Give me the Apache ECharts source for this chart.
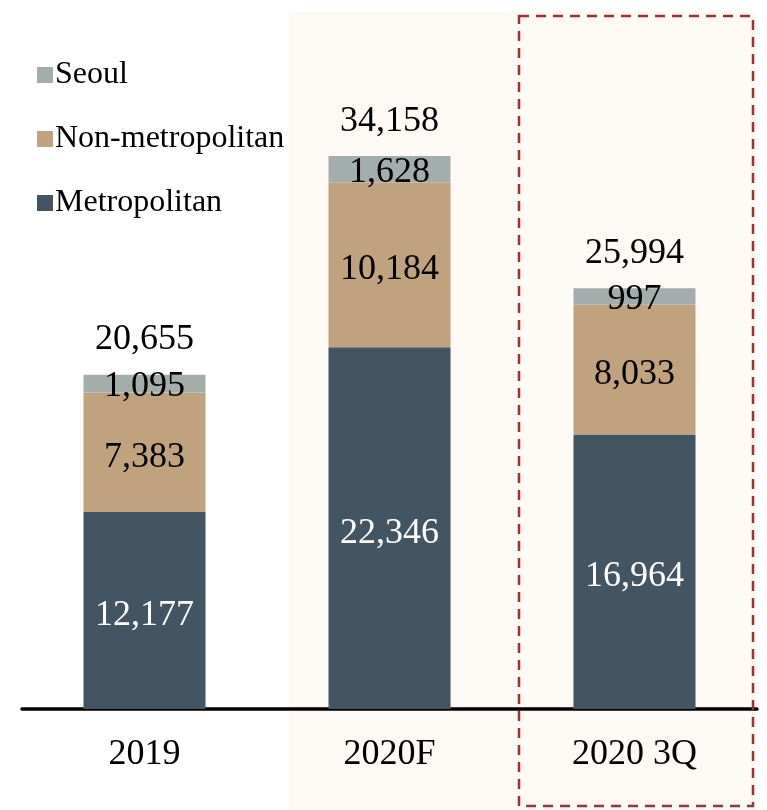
<!DOCTYPE html>
<html>
<head>
<meta charset="utf-8">
<script src="https://cdn.jsdelivr.net/npm/echarts@6/dist/echarts.min.js"></script>
<style>
html,body{margin:0;padding:0;background:#fff;}
#chart{width:767px;height:810px;}
</style>
</head>
<body>
<div id="chart"></div>
<script>
// 分类与数据
var categories = ['2019', '2020F', '2020 3Q'];
var metropolitan = [12177, 22346, 16964];
var nonMetropolitan = [7383, 10184, 8033];
var seoul = [1095, 1628, 997];
var totals = [20655, 34158, 25994];

var fontName = '"Liberation Serif", "Times New Roman", serif';
var fmt = function (v) { return Number(v).toLocaleString('en-US'); };

var myChart = echarts.init(document.getElementById('chart'));
var option = {
  animation: false,
  backgroundColor: '#fff',
  textStyle: { fontFamily: fontName },
  grid: { left: 22, right: 10, top: 13, bottom: 101 },
  // 背景阴影与虚线框
  graphic: [
    { type: 'rect', z: -10, shape: { x: 289, y: 12, width: 468, height: 798 }, style: { fill: '#FDF9F4' } },
    { type: 'rect', z: 100, shape: { x: 519, y: 16, width: 234, height: 790 },
      style: { fill: 'none', stroke: '#A3302E', lineWidth: 2.5, lineDash: [10, 7] } }
  ],
  legend: {
    orient: 'vertical',
    left: 32,
    top: 54,
    itemWidth: 16,
    itemHeight: 16,
    itemGap: 32,
    icon: 'rect',
    data: ['Seoul', 'Non-metropolitan', 'Metropolitan'],
    textStyle: { fontFamily: fontName, fontSize: 32, color: '#000', lineHeight: 32, padding: [0, 0, 0, -3] }
  },
  xAxis: {
    type: 'category',
    data: categories,
    axisLine: { lineStyle: { color: '#000', width: 3.5 } },
    axisTick: { show: false },
    axisLabel: { fontFamily: fontName, fontSize: 36, color: '#000', margin: 28 }
  },
  yAxis: {
    type: 'value',
    min: 0,
    max: 43000,
    show: false,
    splitLine: { show: false }
  },
  series: [
    {
      name: 'Metropolitan', type: 'bar', stack: 'a', barWidth: 122,
      itemStyle: { color: '#435563' },
      label: { show: true, position: 'inside', offset: [0, 5], color: '#fff', fontFamily: fontName, fontSize: 36,
        formatter: function (p) { return fmt(p.value); } },
      data: metropolitan
    },
    {
      name: 'Non-metropolitan', type: 'bar', stack: 'a', barWidth: 122,
      itemStyle: { color: '#C1A27F' },
      label: { show: true, position: 'inside', offset: [0, 5], color: '#000', fontFamily: fontName, fontSize: 36,
        formatter: function (p) { return fmt(p.value); } },
      data: nonMetropolitan
    },
    {
      name: 'Seoul', type: 'bar', stack: 'a', barWidth: 122,
      itemStyle: { color: '#A3ADAC' },
      label: { show: true, position: 'inside', offset: [0, 3], color: '#000', fontFamily: fontName, fontSize: 36,
        formatter: function (p) { return fmt(p.value); } },
      data: seoul
    },
    {
      // 合计标签
      name: 'Total', type: 'bar', stack: 'a', barWidth: 122,
      itemStyle: { color: 'transparent' },
      label: { show: true, position: 'top', distance: 17, color: '#000', fontFamily: fontName, fontSize: 36,
        formatter: function (p) { return fmt(totals[p.dataIndex]); } },
      data: [0, 0, 0]
    }
  ]
};
myChart.setOption(option);
</script>
</body>
</html>
